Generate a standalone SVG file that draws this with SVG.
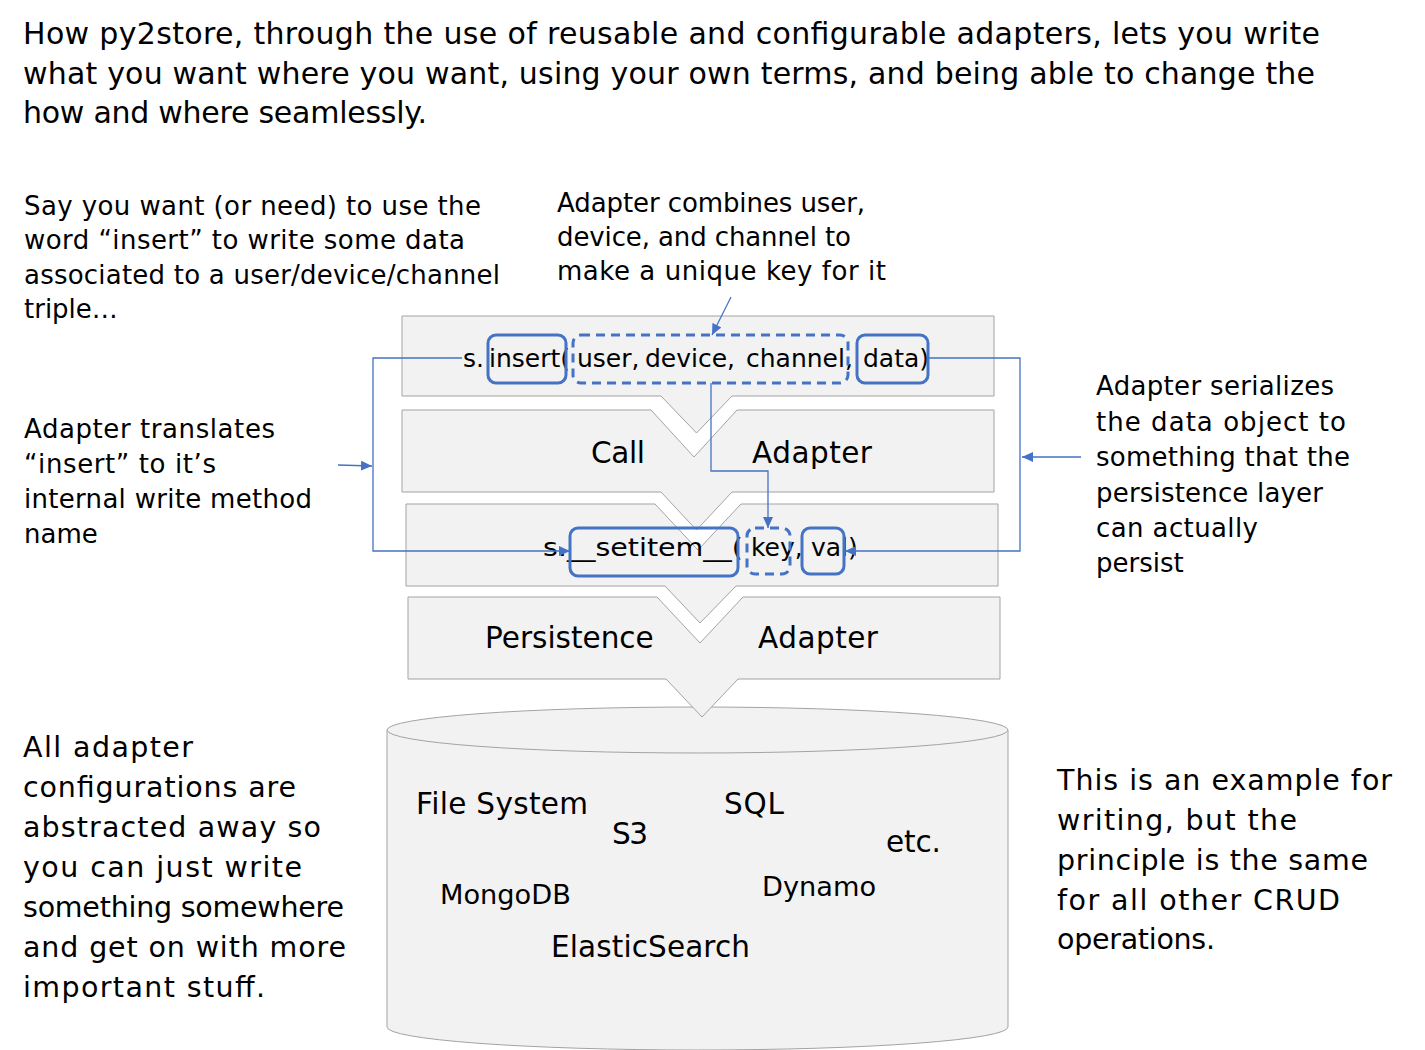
<svg xmlns="http://www.w3.org/2000/svg" width="1425" height="1050" viewBox="0 0 1425 1050">
<style>
  text { font-family: "DejaVu Sans", "Noto Sans", sans-serif; fill: #000; }
  .t30 { font-size: 30px; }
  .t26 { font-size: 26px; }
  .t28 { font-size: 28.5px; }
  .lbl { font-size: 29.5px; }
  .code { font-size: 25px; }
  .panel { fill: #F2F2F2; stroke: #A3A3A3; stroke-width: 1; }
  .box { fill: none; stroke: #4472C4; stroke-width: 3; }
  .dash { stroke-dasharray: 9 6; }
  .conn { fill: none; stroke: #4472C4; stroke-width: 1.3; }
</style>
<defs>
  <marker id="arr" markerUnits="userSpaceOnUse" markerWidth="12" markerHeight="10" refX="11" refY="5" orient="auto">
    <path d="M0,0 L11,5 L0,10 Z" fill="#4472C4"/>
  </marker>
</defs>
<rect width="1425" height="1050" fill="#fff"/>

<g id="title">
  <text class="t30" x="23" y="44" textLength="1297" lengthAdjust="spacing">How py2store, through the use of reusable and configurable adapters, lets you write</text>
  <text class="t30" x="23" y="84" textLength="1292" lengthAdjust="spacing">what you want where you want, using your own terms, and being able to change the</text>
  <text class="t30" x="23" y="123" textLength="404" lengthAdjust="spacing">how and where seamlessly.</text>
</g>

<g id="note-say">
  <text class="t26" x="24" y="215" textLength="457" lengthAdjust="spacing">Say you want (or need) to use the</text>
  <text class="t26" x="24" y="249" textLength="441" lengthAdjust="spacing">word “insert” to write some data</text>
  <text class="t26" x="24" y="284" textLength="476" lengthAdjust="spacing">associated to a user/device/channel</text>
  <text class="t26" x="24" y="318">triple…</text>
</g>

<g id="note-combines">
  <text class="t26" x="557" y="212" textLength="308" lengthAdjust="spacing">Adapter combines user,</text>
  <text class="t26" x="557" y="246" textLength="294" lengthAdjust="spacing">device, and channel to</text>
  <text class="t26" x="557" y="280" textLength="329" lengthAdjust="spacing">make a unique key for it</text>
</g>

<g id="note-translates">
  <text class="t26" x="24" y="438" textLength="251" lengthAdjust="spacing">Adapter translates</text>
  <text class="t26" x="24" y="473" textLength="192" lengthAdjust="spacing">“insert” to it’s</text>
  <text class="t26" x="24" y="508" textLength="288" lengthAdjust="spacing">internal write method</text>
  <text class="t26" x="24" y="543">name</text>
</g>

<g id="note-serializes">
  <text class="t26" x="1096" y="395" textLength="238" lengthAdjust="spacing">Adapter serializes</text>
  <text class="t26" x="1096" y="431" textLength="250" lengthAdjust="spacing">the data object to</text>
  <text class="t26" x="1096" y="466" textLength="254" lengthAdjust="spacing">something that the</text>
  <text class="t26" x="1096" y="502" textLength="227" lengthAdjust="spacing">persistence layer</text>
  <text class="t26" x="1096" y="537" textLength="162" lengthAdjust="spacing">can actually</text>
  <text class="t26" x="1096" y="572">persist</text>
</g>

<g id="note-all">
  <text class="t28" x="23" y="757" textLength="170" lengthAdjust="spacing">All adapter</text>
  <text class="t28" x="23" y="797" textLength="273" lengthAdjust="spacing">configurations are</text>
  <text class="t28" x="23" y="837" textLength="298" lengthAdjust="spacing">abstracted away so</text>
  <text class="t28" x="23" y="877" textLength="279" lengthAdjust="spacing">you can just write</text>
  <text class="t28" x="23" y="917" textLength="321" lengthAdjust="spacing">something somewhere</text>
  <text class="t28" x="23" y="957" textLength="323" lengthAdjust="spacing">and get on with more</text>
  <text class="t28" x="23" y="997" textLength="242" lengthAdjust="spacing">important stuff.</text>
</g>

<g id="note-example">
  <text class="t28" x="1057" y="790" textLength="335" lengthAdjust="spacing">This is an example for</text>
  <text class="t28" x="1057" y="830" textLength="240" lengthAdjust="spacing">writing, but the</text>
  <text class="t28" x="1057" y="870" textLength="311" lengthAdjust="spacing">principle is the same</text>
  <text class="t28" x="1057" y="910" textLength="283" lengthAdjust="spacing">for all other CRUD</text>
  <text class="t28" x="1057" y="949" textLength="158" lengthAdjust="spacing">operations.</text>
</g>

<g id="storage">
  <path class="panel" d="M387,730 A310.5,23 0 0 1 1008,730 V1027 A310.5,23 0 0 1 387,1027 Z"/>
  <path class="panel" d="M387,730 A310.5,23 0 0 0 1008,730" fill="none"/>
  <text class="lbl" x="416" y="814" textLength="172" lengthAdjust="spacing">File System</text>
  <text class="lbl" x="724" y="814" textLength="60" lengthAdjust="spacing">SQL</text>
  <text class="lbl" x="612" y="844" textLength="36" lengthAdjust="spacing">S3</text>
  <text class="lbl" x="886" y="852" textLength="55" lengthAdjust="spacing">etc.</text>
  <text x="440" y="904" style="font-size:27.2px">MongoDB</text>
  <text x="762" y="896" style="font-size:27.2px">Dynamo</text>
  <text class="lbl" x="551" y="957" textLength="199" lengthAdjust="spacing">ElasticSearch</text>
</g>

<g id="call">
  <path class="panel" d="M402,316 H994 V396 H732 L696.5,433 L661,396 H402 Z"/>
  <text class="code"><tspan x="463" y="367">s.</tspan><tspan x="489" y="367">insert(</tspan><tspan x="577" y="367">user,</tspan> <tspan x="645" y="367">device,</tspan> <tspan x="746" y="367">channel,</tspan> <tspan x="863" y="367">data)</tspan></text>
  <rect class="box" x="488" y="335" width="78" height="48" rx="8"/>
  <rect class="box dash" x="573" y="335" width="275" height="48" rx="8"/>
  <rect class="box" x="857" y="335" width="71" height="48" rx="8"/>
</g>

<g id="call-adapter">
  <path class="panel" d="M402,410 H651 L694,457 L737,410 H994 V492 H732 L696.5,530 L661,492 H402 Z"/>
  <text class="lbl" x="591" y="463" textLength="54" lengthAdjust="spacing">Call</text>
  <text class="lbl" x="752" y="463" textLength="120" lengthAdjust="spacing">Adapter</text>
</g>

<g id="setitem">
  <path class="panel" d="M406,504 H655 L698,550 L741,504 H998 V586 H736 L700,623 L665,586 H406 Z"/>
  <text class="code"><tspan x="543" y="556" textLength="200" lengthAdjust="spacingAndGlyphs">s.__setitem__(</tspan><tspan x="751" y="556">key,</tspan> <tspan x="811" y="556">val)</tspan></text>
  <rect class="box" x="570" y="528" width="168" height="48" rx="8"/>
  <rect class="box dash" x="747" y="528" width="43" height="46" rx="8"/>
  <rect class="box" x="802" y="528" width="42" height="46" rx="8"/>
</g>

<g id="persistence-adapter">
  <path class="panel" d="M408,597 H657 L700,643 L743,597 H1000 V679 H738 L702,717 L666,679 H408 Z"/>
  <text class="lbl" x="485" y="648">Persistence</text>
  <text class="lbl" x="758" y="648" textLength="120" lengthAdjust="spacing">Adapter</text>
</g>

<g id="connectors">
  <path class="conn" d="M731,297 L712,335" marker-end="url(#arr)"/>
  <path class="conn" d="M711,383 V471 H768 V528" marker-end="url(#arr)"/>
  <path class="conn" d="M462,358 H373 V551 H570" marker-end="url(#arr)"/>
  <path class="conn" d="M338,465 L372,466" marker-end="url(#arr)"/>
  <path class="conn" d="M928,358 H1020 V551 H845" marker-end="url(#arr)"/>
  <path class="conn" d="M1081,457 H1022" marker-end="url(#arr)"/>
</g>
</svg>
